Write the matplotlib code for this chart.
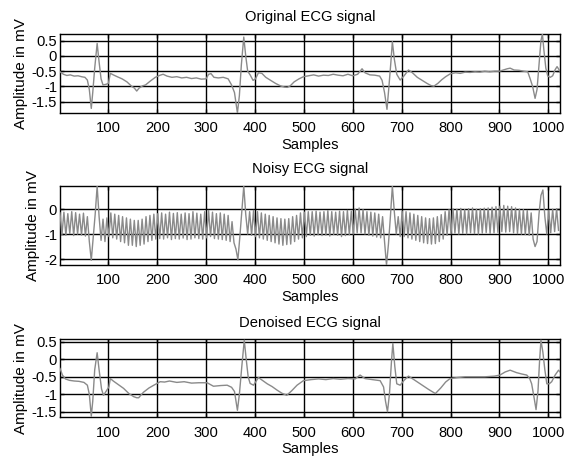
import numpy as np
import matplotlib
matplotlib.use("Agg")
import matplotlib.pyplot as plt

plt.rcParams['font.family'] = ['Liberation Sans', 'DejaVu Sans']

# ---------------- data ----------------
orig_x = [1, 8, 15, 22, 30, 38, 45, 52, 57, 61, 65, 68, 72, 77, 81, 85, 89, 95, 100, 104,
          110, 118, 128, 138, 148, 153, 158, 163, 170, 176, 186, 196, 206, 212, 220, 230, 240,
          250, 260, 270, 280, 290, 300, 305, 310, 316, 325, 335, 345, 352, 358, 364, 368, 372,
          377, 381, 385, 390, 396, 401, 407, 414, 422, 432, 442, 452, 460, 466, 472, 480, 490,
          499, 510, 520, 530, 540, 550, 560, 570, 580, 590, 600, 610, 619, 625, 635, 645, 655,
          660, 665, 670, 674, 678, 681, 685, 690, 697, 705, 714, 722, 732, 742, 752, 760, 766,
          774, 782, 790, 799, 810, 820, 830, 840, 850, 860, 870, 880, 890, 900, 910, 916, 922,
          930, 940, 950, 958, 963, 968, 973, 977, 981, 985, 988, 991, 995, 999, 1004, 1009,
          1014, 1018, 1024]
orig_y = [-0.52, -0.60, -0.64, -0.62, -0.66, -0.65, -0.68, -0.70, -0.79, -1.10, -1.72, -1.20,
          -0.40, 0.41, -0.20, -0.75, -0.95, -0.93, -0.90, -0.57, -0.62, -0.68, -0.75, -0.85,
          -1.00, -1.05, -1.15, -1.05, -0.98, -0.95, -0.82, -0.70, -0.63, -0.60, -0.66, -0.70,
          -0.68, -0.72, -0.70, -0.74, -0.72, -0.76, -0.75, -0.60, -0.58, -0.70, -0.72, -0.70,
          -0.75, -0.95, -1.20, -1.87, -1.30, -0.30, 0.62, 0.00, -0.50, -0.62, -0.80, -0.75,
          -0.55, -0.57, -0.70, -0.80, -0.90, -0.98, -1.02, -1.03, -0.98, -0.85, -0.75, -0.68,
          -0.65, -0.62, -0.66, -0.63, -0.64, -0.60, -0.63, -0.65, -0.60, -0.65, -0.60, -0.42,
          -0.55, -0.62, -0.63, -0.66, -0.80, -1.20, -1.75, -1.00, -0.20, 0.47, -0.10, -0.60,
          -0.79, -0.65, -0.46, -0.55, -0.70, -0.80, -0.90, -0.97, -0.99, -0.90, -0.78, -0.68,
          -0.59, -0.55, -0.57, -0.53, -0.54, -0.52, -0.53, -0.50, -0.52, -0.50, -0.50, -0.45,
          -0.42, -0.40, -0.46, -0.47, -0.50, -0.52, -0.75, -1.00, -1.39, -1.10, -0.30, 0.50,
          0.72, 0.20, -0.40, -0.66, -0.70, -0.65, -0.45, -0.35, -0.50]

# noisy signal, sampled every 4 samples starting at sample 1
noisy_y = [
    -0.15, -1.02, -0.12, -1.05, -0.18, -0.98, -0.10, -1.06, -0.14, -1.00, -0.20, -1.04, -0.16, -1.08, -0.30,
    -1.30, -2.05, -1.10, -0.20, 0.93, -0.30, -1.25, -0.40, -1.30, -0.35,
    -1.10, -0.15, -1.15, -0.20, -1.20, -0.25, -1.30, -0.30, -1.35, -0.35, -1.45, -0.40, -1.45, -0.45, -1.50,
    -0.45, -1.45, -0.40, -1.40, -0.30, -1.30, -0.25, -1.25, -0.20, -1.20,
    -0.18, -1.18, -0.15, -1.20, -0.20, -1.15, -0.12, -1.22, -0.17, -1.18, -0.14, -1.20, -0.20, -1.16, -0.15,
    -1.22, -0.18, -1.20, -0.10, -1.15, -0.16, -1.18, -0.20, -1.20, -0.10, -1.15, -0.05, -1.10, -0.12, -1.18,
    -0.18, -1.20, -0.15, -1.22, -0.20, -1.25, -0.25, -1.30,
    -0.50, -1.35, -1.60, -2.03, -1.10, -0.10, 0.93, -0.20, -1.00,
    -0.10, -1.05, -0.05, -1.10, -0.10, -1.15, -0.15, -1.20, -0.20, -1.25, -0.25, -1.30, -0.30, -1.35, -0.35,
    -1.40, -0.38, -1.45, -0.40, -1.42, -0.38, -1.40, -0.30, -1.30, -0.25, -1.20, -0.15, -1.15, -0.12, -1.10,
    -0.10,
    -1.05, -0.10, -1.08, -0.08, -1.03, -0.12, -1.06, -0.10, -1.04, -0.06, -1.08, -0.10, -1.02, -0.12, -1.05,
    -0.08, -1.10, -0.10, -1.06, -0.05, -1.03, -0.08, -1.00, 0.00, -0.95, 0.05, -0.95, -0.02, -1.00, -0.10,
    -1.05, -0.12, -1.08, -0.15, -1.12, -0.20, -1.15, -0.30,
    -1.30, -2.24, -1.40, -0.30, 0.93, -0.10, -1.00, -0.30,
    -1.10, -0.08, -1.10, -0.10, -1.15, -0.15, -1.20, -0.20, -1.25, -0.25, -1.30, -0.30, -1.35, -0.35, -1.38,
    -0.38, -1.40, -0.35, -1.38, -0.30, -1.30, -0.22, -1.20, -0.10, -1.05, -0.02,
    -0.98, 0.02, -0.96, 0.00, -1.00, 0.03, -0.97, -0.02, -0.99, 0.02, -0.95, 0.05, -0.98, 0.00, -1.00,
    0.02, -0.96, 0.04, -0.94, 0.05, -0.97, 0.08, -0.95, 0.10, -0.93, 0.12, -0.90, 0.15, -0.92, 0.12,
    -0.90, 0.10, -0.95, 0.05, -0.98, 0.00, -1.00, -0.02, -1.02, -0.05, -1.05, -0.15,
    -1.20, -1.50, -1.30, -0.20, 0.55, 0.77, -0.30,
    -1.00, -0.05, -0.95, 0.00, -0.90, 0.02, -0.85,
]
noisy_x = np.arange(len(noisy_y)) * 4 + 1

den_x = [1, 6, 12, 20, 30, 40, 50, 57, 61, 65, 68, 72, 77, 81, 86, 90, 96, 101, 104, 110,
         120, 131, 142, 152, 158, 162, 168, 172, 183, 193, 206, 215, 225, 240, 255, 270, 285,
         302, 315, 330, 343, 352, 358, 364, 368, 373, 378, 382, 386, 390, 397, 407, 415, 425,
         435, 445, 455, 465, 475, 486, 499, 515, 530, 545, 560, 575, 590, 605, 615, 625, 640,
         656, 663, 667, 671, 675, 679, 682, 686, 690, 697, 705, 714, 725, 740, 755, 769, 780,
         790, 799, 815, 830, 850, 870, 890, 901, 912, 922, 935, 946, 956, 962, 966, 971, 975,
         979, 982, 985, 989, 993, 997, 1002, 1007, 1014, 1021, 1024]
den_y = [-0.26, -0.45, -0.56, -0.60, -0.62, -0.63, -0.66, -0.74, -1.00, -1.63, -1.20, -0.30,
         0.19, -0.30, -0.85, -1.03, -0.90, -0.79, -0.55, -0.62, -0.72, -0.83, -0.98, -1.07,
         -1.10, -1.10, -1.00, -0.94, -0.82, -0.74, -0.64, -0.65, -0.62, -0.66, -0.64, -0.68,
         -0.67, -0.67, -0.77, -0.75, -0.74, -0.80, -0.92, -1.46, -1.00, -0.20, 0.55, 0.00,
         -0.50, -0.69, -0.74, -0.52, -0.60, -0.70, -0.78, -0.88, -0.97, -1.03, -0.90, -0.74,
         -0.61, -0.58, -0.56, -0.58, -0.55, -0.57, -0.55, -0.56, -0.45, -0.55, -0.58, -0.61,
         -0.79, -1.20, -1.50, -1.00, -0.10, 0.46, -0.20, -0.70, -0.74, -0.60, -0.48, -0.58,
         -0.72, -0.86, -0.98, -0.82, -0.65, -0.55, -0.52, -0.50, -0.50, -0.50, -0.48, -0.45,
         -0.36, -0.31, -0.38, -0.42, -0.45, -0.55, -0.70, -1.10, -1.44, -0.90, -0.10, 0.55,
         0.20, -0.30, -0.70, -0.70, -0.64, -0.45, -0.31, -0.36]

titles = ["Original ECG signal", "Noisy ECG signal", "Denoised ECG signal"]
xticks = [100, 200, 300, 400, 500, 600, 700, 800, 900, 1000]
yticks_a = [0.5, 0, -0.5, -1, -1.5]
ytick_labels_a = ["0.5", "0", "-0.5", "-1", "-1.5"]
yticks_b = [0, -1, -2]
ytick_labels_b = ["0", "-1", "-2"]

# ---------------- figure ----------------
W, H = 565, 462
fig = plt.figure(figsize=(W / 100, H / 100), dpi=100)

def box(top, bottom, left=60, right=560):
    return [left / W, 1 - bottom / H, (right - left) / W, (bottom - top) / H]

panels = [
    (box(34, 113), orig_x, orig_y, (-1.87, 0.72), yticks_a, ytick_labels_a),
    (box(186, 265), noisy_x, noisy_y, (-2.24, 0.93), yticks_b, ytick_labels_b),
    (box(339.3, 417.3), den_x, den_y, (-1.66, 0.575), yticks_a, ytick_labels_a),
]

fs = 10.6
line_col = '#8a8a8a'
for (rect, xs, ys, ylim, yt, ytl), title in zip(panels, titles):
    ax = fig.add_axes(rect)
    ax.plot(xs, ys, color=line_col, lw=1.0, zorder=3)
    ax.set_xlim(1, 1024)
    ax.set_ylim(*ylim)
    ax.set_xticks(xticks)
    ax.set_xticklabels([str(t) for t in xticks], fontsize=fs)
    ax.set_yticks(yt)
    ax.set_yticklabels(ytl, fontsize=fs)
    ax.grid(True, color='black', lw=1.0, ls='-', zorder=1)
    ax.set_axisbelow(True)
    ax.tick_params(axis='x', direction='in', length=3, width=1, top=True, pad=6)
    ax.tick_params(axis='y', direction='in', length=3, width=1, right=True, pad=2)
    for sp in ax.spines.values():
        sp.set_linewidth(1.0)
        sp.set_color('black')
    ax.set_title(title, fontsize=fs, pad=9)
    ax.set_xlabel("Samples", fontsize=fs, labelpad=2)
    ax.set_ylabel("Amplitude in mV", fontsize=11, labelpad=3)

fig.savefig("out.png", dpi=100)
